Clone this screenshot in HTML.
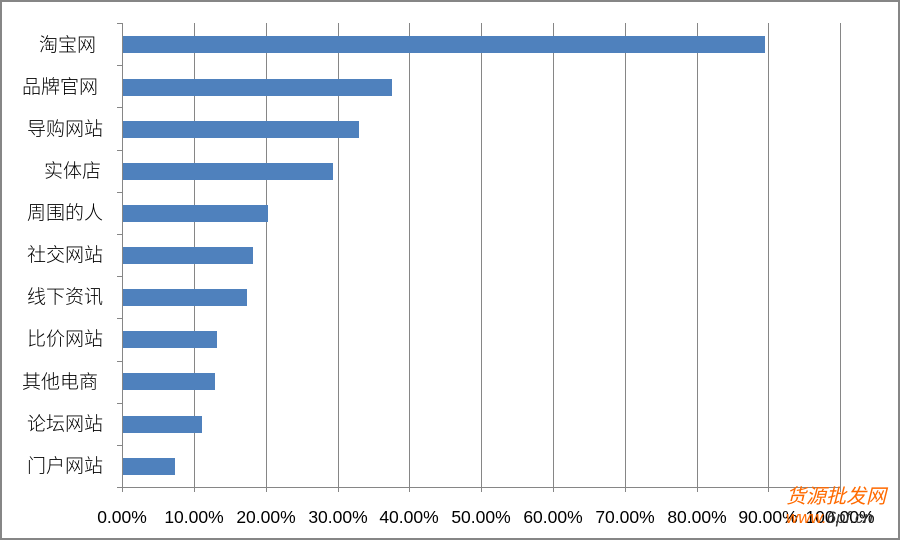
<!DOCTYPE html>
<html><head><meta charset="utf-8"><style>
html,body{margin:0;padding:0;background:#fff}
svg{display:block}
</style></head><body>
<svg width="900" height="540" xmlns="http://www.w3.org/2000/svg" font-family="'Liberation Sans','Noto Sans CJK SC',sans-serif">
<rect x="1" y="1" width="898" height="538" fill="#fff" stroke="#868686" stroke-width="2"/>
<g stroke="#868686" stroke-width="1">
<line x1="194.5" y1="23" x2="194.5" y2="487"/>
<line x1="266.5" y1="23" x2="266.5" y2="487"/>
<line x1="338.5" y1="23" x2="338.5" y2="487"/>
<line x1="409.5" y1="23" x2="409.5" y2="487"/>
<line x1="481.5" y1="23" x2="481.5" y2="487"/>
<line x1="553.5" y1="23" x2="553.5" y2="487"/>
<line x1="625.5" y1="23" x2="625.5" y2="487"/>
<line x1="697.5" y1="23" x2="697.5" y2="487"/>
<line x1="768.5" y1="23" x2="768.5" y2="487"/>
<line x1="840.5" y1="23" x2="840.5" y2="487"/>
<line x1="122.5" y1="23" x2="122.5" y2="492"/>
<line x1="117" y1="487.5" x2="840.5" y2="487.5"/>
<line x1="117" y1="23.5" x2="122" y2="23.5"/>
<line x1="117" y1="65.5" x2="122" y2="65.5"/>
<line x1="117" y1="107.5" x2="122" y2="107.5"/>
<line x1="117" y1="150.5" x2="122" y2="150.5"/>
<line x1="117" y1="192.5" x2="122" y2="192.5"/>
<line x1="117" y1="234.5" x2="122" y2="234.5"/>
<line x1="117" y1="276.5" x2="122" y2="276.5"/>
<line x1="117" y1="318.5" x2="122" y2="318.5"/>
<line x1="117" y1="361.5" x2="122" y2="361.5"/>
<line x1="117" y1="403.5" x2="122" y2="403.5"/>
<line x1="117" y1="445.5" x2="122" y2="445.5"/>
<line x1="194.5" y1="487" x2="194.5" y2="492"/>
<line x1="266.5" y1="487" x2="266.5" y2="492"/>
<line x1="338.5" y1="487" x2="338.5" y2="492"/>
<line x1="409.5" y1="487" x2="409.5" y2="492"/>
<line x1="481.5" y1="487" x2="481.5" y2="492"/>
<line x1="553.5" y1="487" x2="553.5" y2="492"/>
<line x1="625.5" y1="487" x2="625.5" y2="492"/>
<line x1="697.5" y1="487" x2="697.5" y2="492"/>
<line x1="768.5" y1="487" x2="768.5" y2="492"/>
<line x1="840.5" y1="487" x2="840.5" y2="492"/>
</g>
<g fill="#4f81bd">
<rect x="123" y="36" width="642" height="17"/>
<rect x="123" y="79" width="269" height="17"/>
<rect x="123" y="121" width="236" height="17"/>
<rect x="123" y="163" width="210" height="17"/>
<rect x="123" y="205" width="145" height="17"/>
<rect x="123" y="247" width="130" height="17"/>
<rect x="123" y="289" width="124" height="17"/>
<rect x="123" y="331" width="94" height="17"/>
<rect x="123" y="373" width="92" height="17"/>
<rect x="123" y="416" width="79" height="17"/>
<rect x="123" y="458" width="52" height="17"/>
</g>
<g font-size="19" fill="#000" text-anchor="end" font-weight="300">
<text x="96" y="51">淘宝网</text>
<text x="98" y="93">品牌官网</text>
<text x="103" y="135">导购网站</text>
<text x="101" y="177">实体店</text>
<text x="103" y="219">周围的人</text>
<text x="103" y="261">社交网站</text>
<text x="103" y="303">线下资讯</text>
<text x="103" y="345">比价网站</text>
<text x="98" y="388">其他电商</text>
<text x="103" y="430">论坛网站</text>
<text x="103" y="472">门户网站</text>
</g>
<g font-size="17.5" fill="#000" text-anchor="middle">
<text x="122" y="523">0.00%</text>
<text x="194" y="523">10.00%</text>
<text x="266" y="523">20.00%</text>
<text x="338" y="523">30.00%</text>
<text x="409" y="523">40.00%</text>
<text x="481" y="523">50.00%</text>
<text x="553" y="523">60.00%</text>
<text x="625" y="523">70.00%</text>
<text x="697" y="523">80.00%</text>
<text x="768" y="523">90.00%</text>
<text x="840" y="523">100.00%</text>
</g>
<text x="786" y="503" font-size="20" fill="#ff6a00" font-style="italic">货源批发网</text>
<text x="786" y="523" font-size="17" fill="#ff6a00" font-style="italic">www.<tspan fill="#333">6pf.cn</tspan></text>
</svg>
</body></html>
